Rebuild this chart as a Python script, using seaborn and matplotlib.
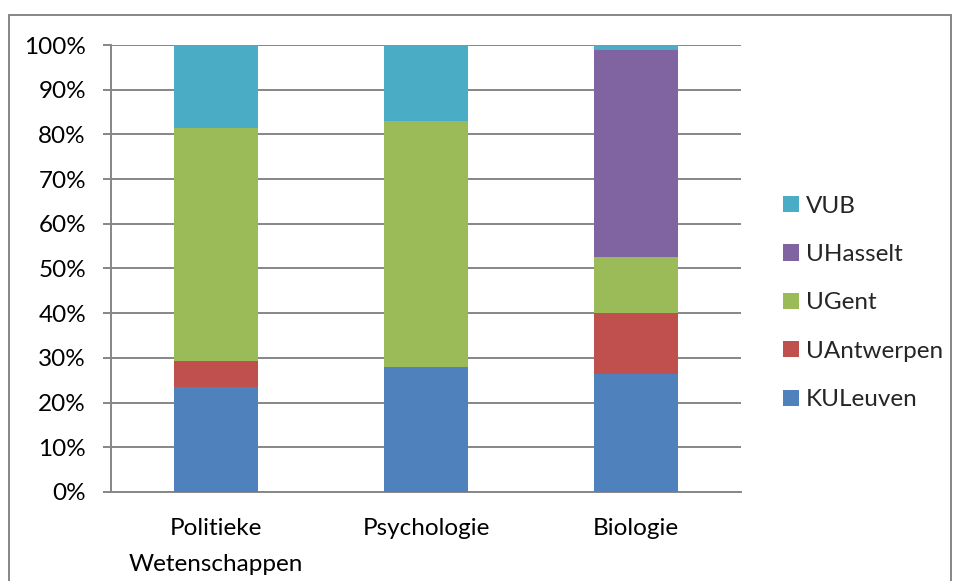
import matplotlib
matplotlib.use("Agg")
import matplotlib.pyplot as plt
import seaborn as sns
import numpy as np
from matplotlib.ticker import PercentFormatter, MultipleLocator, FixedLocator
from matplotlib.patches import Rectangle, Patch

categories = ["Politieke\nWetenschappen", "Psychologie", "Biologie"]
series_names = ["KULeuven", "UAntwerpen", "UGent", "UHasselt", "VUB"]
kuleuven = [0.236, 0.280, 0.263]
uantwerpen = [0.056, 0.000, 0.137]
ugent = [0.522, 0.551, 0.125]
uhasselt = [0.000, 0.000, 0.464]
vub = [0.186, 0.169, 0.011]
colors = ["#4F81BD", "#C0504D", "#9BBB59", "#8064A2", "#4BACC6"]

sns.set_style("white")
plt.rcParams["font.family"] = ["Lato", "DejaVu Sans"]

W, H = 954, 581
fig = plt.figure(figsize=(W / 100, H / 100), dpi=100)
ax = fig.add_axes([111 / W, (H - 492) / H, (741 - 111) / W, (492 - 45) / H])

series = [kuleuven, uantwerpen, ugent, uhasselt, vub]
bottom = np.zeros(len(categories))
handles = []
for name, vals, c in zip(series_names, series, colors):
    sns.barplot(x=categories, y=vals, bottom=bottom, color=c, width=0.4,
                saturation=1, ax=ax, linewidth=0, zorder=3)
    bottom = bottom + np.array(vals)
    handles.append(Patch(facecolor=c, edgecolor="none", label=name))

ax.set_xlim(-0.5, 2.5)
ax.set_ylim(0, 1)
ax.yaxis.set_major_locator(MultipleLocator(0.1))
ax.yaxis.set_major_formatter(PercentFormatter(1.0, decimals=0))
grid_c = "#868686"
ax.yaxis.grid(True, color=grid_c, linewidth=1.4, zorder=0)
ax.xaxis.grid(False)
for s in ["top", "right"]:
    ax.spines[s].set_visible(False)
for s in ["left", "bottom"]:
    ax.spines[s].set_color(grid_c)
    ax.spines[s].set_linewidth(1.4)

ax.set_xticks(range(len(categories)))
ax.set_xticklabels(categories, linespacing=1.85)
ax.xaxis.set_minor_locator(FixedLocator([-0.5, 0.5, 1.5, 2.5]))
ax.tick_params(axis="x", which="major", length=0, pad=19, labelsize=17.5, colors="black")
ax.tick_params(axis="x", which="minor", length=6, width=1.4, color=grid_c, direction="out")
ax.tick_params(axis="y", which="major", length=6, width=1.4, color=grid_c, direction="out",
               pad=12, labelsize=17.5, labelcolor="black", left=True)
ax.set_xlabel("")
ax.set_ylabel("")

leg = fig.legend(handles=handles[::-1], loc="center left",
                 bbox_to_anchor=(783 / W, 1 - 303 / H), frameon=False,
                 fontsize=17.5, handlelength=0.64, handleheight=0.64,
                 handletextpad=0.3, labelspacing=1.13, borderpad=0, borderaxespad=0)

fig.patches.append(Rectangle((9 / W, -0.05), (951 - 9) / W, 1.05 - 15 / H,
                             transform=fig.transFigure, fill=False,
                             edgecolor="#868686", linewidth=1.4))

fig.savefig("out.png", dpi=100)
